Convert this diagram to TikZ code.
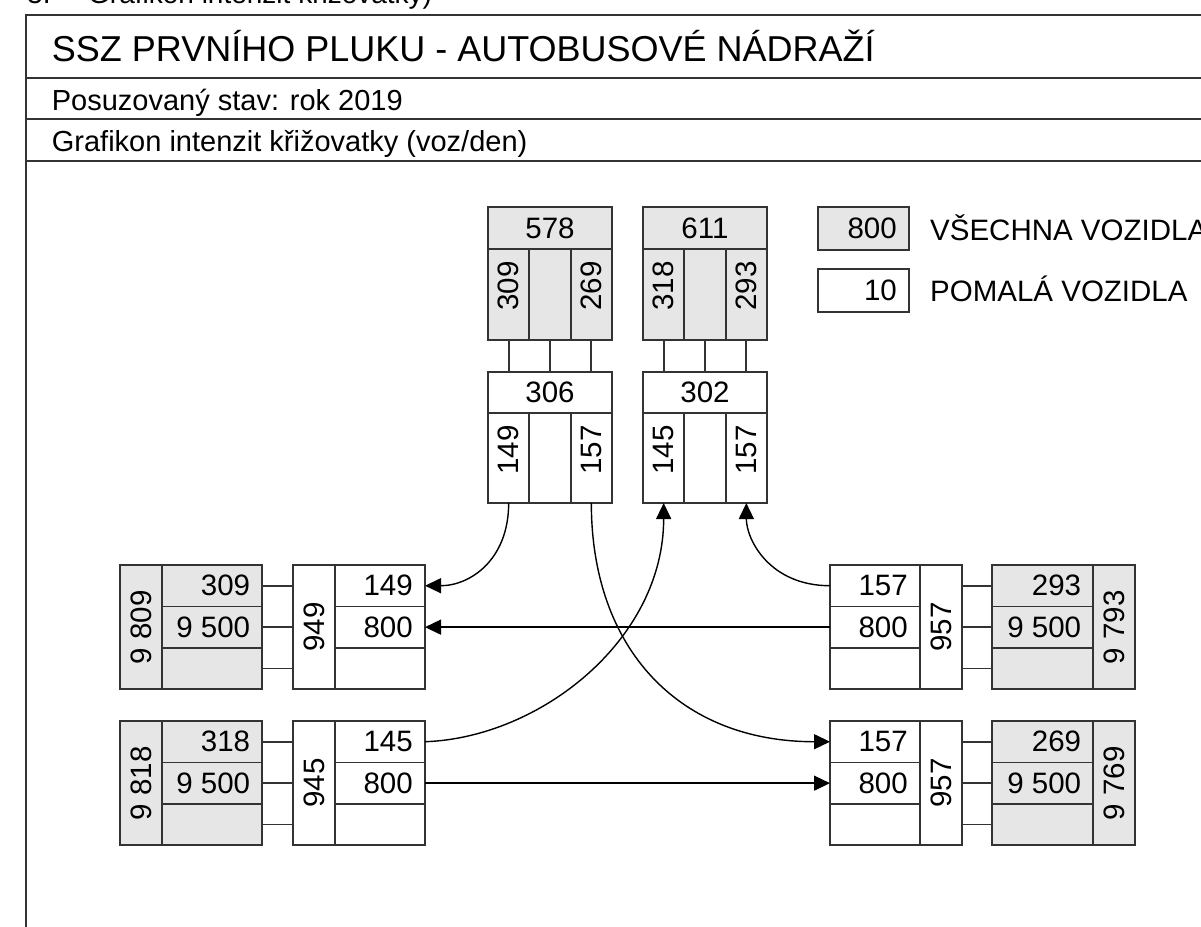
\documentclass[tikz,border=0pt]{standalone}
\usepackage{fontspec}
\setmainfont{Liberation Sans}
\usetikzlibrary{arrows.meta,calc}
\definecolor{cellgrey}{HTML}{E6E6E6}
\definecolor{linecol}{HTML}{333333}
\tikzset{
  cellst/.style={draw=linecol,line width=1.8pt,inner sep=0pt,outer sep=0pt,anchor=north west},
  numst/.style={inner sep=0pt,font=\fontsize{29.5}{30}\selectfont},
  frameline/.style={draw=linecol,line width=2pt},
  link/.style={draw=linecol,line width=1.8pt},
  flow/.style={draw=black,line width=1.4pt,-{Triangle[length=16pt,width=15pt]}},
}
\newcommand\mkcell[6]{\node[cellst,fill=#6,minimum width=#4pt,minimum height=#5pt] (#1) at (#2,#3) {};}
\newcommand\numr[3]{\node[numst,anchor=east] (#1) at ([xshift=-12pt]#2.east) {#3};}
\newcommand\numc[3]{\node[numst] (#1) at (#2.center) {#3};}
\newcommand\numv[3]{\node[numst,rotate=90] (#1) at (#2.center) {#3};}
\newcommand\numvt[3]{\node[numst,rotate=90,anchor=east] (#1) at ([yshift=-12pt]#2.north) {#3};}
\begin{document}
\begin{tikzpicture}[x=1pt,y=-1pt]
\useasboundingbox (0,0) rectangle (1201,926);
% frame
\draw[frameline] (25.7,950) -- (25.7,15) -- (1230,15);
\draw[frameline] (25.7,77.7) -- (1230,77.7);
\draw[frameline] (25.7,119) -- (1230,119);
\draw[frameline] (25.7,161) -- (1230,161);
% header texts
\node[anchor=base west,inner sep=0pt,font=\fontsize{28}{30}\selectfont] (num3) at (27,4) {3.};
\node[anchor=base west,inner sep=0pt,font=\fontsize{28}{30}\selectfont] (cuttitle) at (88,4) {Grafikon intenzit křižovatky)};
\node[anchor=base west,inner sep=0pt,font=\fontsize{36}{40}\selectfont] (title) at (51.7,61.7) {SSZ PRVNÍHO PLUKU - AUTOBUSOVÉ NÁDRAŽÍ};
\node[anchor=base west,inner sep=0pt,font=\fontsize{29}{30}\selectfont] (stav) at (51.7,110) {Posuzovaný stav: rok 2019};
\node[anchor=base west,inner sep=0pt,font=\fontsize{29}{30}\selectfont] (graf) at (51.7,151.7) {Grafikon intenzit křižovatky (voz/den)};
% legend
\mkcell{LGa}{818}{207}{91}{43}{cellgrey}
\mkcell{LGb}{818}{269}{91}{43}{white}
\numr{LGan}{LGa}{800}
\numr{LGbn}{LGb}{10}
\node[numst,anchor=base west] (LGat) at (930,240) {VŠECHNA VOZIDLA};
\node[numst,anchor=base west] (LGbt) at (930,301) {POMALÁ VOZIDLA};
% ---- top left
\mkcell{TAh}{488}{207}{124}{42}{cellgrey}
\mkcell{TAa}{488}{249}{41.33}{91}{cellgrey}
\mkcell{TAb}{529.33}{249}{41.33}{91}{cellgrey}
\mkcell{TAc}{570.67}{249}{41.33}{91}{cellgrey}
\mkcell{BAh}{488}{372}{124}{41}{white}
\mkcell{BAa}{488}{413}{41.33}{90}{white}
\mkcell{BAb}{529.33}{413}{41.33}{90}{white}
\mkcell{BAc}{570.67}{413}{41.33}{90}{white}
\numc{TAhn}{TAh}{578}
\numvt{TAan}{TAa}{309}
\numvt{TAcn}{TAc}{269}
\numc{BAhn}{BAh}{306}
\numvt{BAan}{BAa}{149}
\numvt{BAcn}{BAc}{157}
\draw[link] (TAa.south) -- (TAa.south |- BAh.north);
\draw[link] (TAb.south) -- (TAb.south |- BAh.north);
\draw[link] (TAc.south) -- (TAc.south |- BAh.north);
% ---- top right
\mkcell{TBh}{643}{207}{124}{42}{cellgrey}
\mkcell{TBa}{643}{249}{41.33}{91}{cellgrey}
\mkcell{TBb}{684.33}{249}{41.33}{91}{cellgrey}
\mkcell{TBc}{725.67}{249}{41.33}{91}{cellgrey}
\mkcell{BBh}{643}{372}{124}{41}{white}
\mkcell{BBa}{643}{413}{41.33}{90}{white}
\mkcell{BBb}{684.33}{413}{41.33}{90}{white}
\mkcell{BBc}{725.67}{413}{41.33}{90}{white}
\numc{TBhn}{TBh}{611}
\numvt{TBan}{TBa}{318}
\numvt{TBcn}{TBc}{293}
\numc{BBhn}{BBh}{302}
\numvt{BBan}{BBa}{145}
\numvt{BBcn}{BBc}{157}
\draw[link] (TBa.south) -- (TBa.south |- BBh.north);
\draw[link] (TBb.south) -- (TBb.south |- BBh.north);
\draw[link] (TBc.south) -- (TBc.south |- BBh.north);
% ---- left upper
\mkcell{LAs}{120}{565}{41.7}{124.3}{cellgrey}
\mkcell{LAr1}{161.7}{565}{100.6}{41.43}{cellgrey}
\mkcell{LAr2}{161.7}{606.43}{100.6}{41.43}{cellgrey}
\mkcell{LAr3}{161.7}{647.87}{100.6}{41.43}{cellgrey}
\mkcell{LAm}{293.3}{565}{41.7}{124.3}{white}
\mkcell{LAw1}{335}{565}{90}{41.43}{white}
\mkcell{LAw2}{335}{606.43}{90}{41.43}{white}
\mkcell{LAw3}{335}{647.87}{90}{41.43}{white}
\numv{LAsn}{LAs}{9 809}
\numr{LAr1n}{LAr1}{309}
\numr{LAr2n}{LAr2}{9 500}
\numv{LAmn}{LAm}{949}
\numr{LAw1n}{LAw1}{149}
\numr{LAw2n}{LAw2}{800}
\draw[link] (LAr1.east) -- (LAr1.east -| LAm.west);
\draw[link] (LAr2.east) -- (LAr2.east -| LAm.west);
\draw[link] (LAr3.east) -- (LAr3.east -| LAm.west);
% ---- left lower
\mkcell{LBs}{120}{721}{41.7}{124.3}{cellgrey}
\mkcell{LBr1}{161.7}{721}{100.6}{41.43}{cellgrey}
\mkcell{LBr2}{161.7}{762.43}{100.6}{41.43}{cellgrey}
\mkcell{LBr3}{161.7}{803.87}{100.6}{41.43}{cellgrey}
\mkcell{LBm}{293.3}{721}{41.7}{124.3}{white}
\mkcell{LBw1}{335}{721}{90}{41.43}{white}
\mkcell{LBw2}{335}{762.43}{90}{41.43}{white}
\mkcell{LBw3}{335}{803.87}{90}{41.43}{white}
\numv{LBsn}{LBs}{9 818}
\numr{LBr1n}{LBr1}{318}
\numr{LBr2n}{LBr2}{9 500}
\numv{LBmn}{LBm}{945}
\numr{LBw1n}{LBw1}{145}
\numr{LBw2n}{LBw2}{800}
\draw[link] (LBr1.east) -- (LBr1.east -| LBm.west);
\draw[link] (LBr2.east) -- (LBr2.east -| LBm.west);
\draw[link] (LBr3.east) -- (LBr3.east -| LBm.west);
% ---- right upper
\mkcell{RAw1}{830}{565}{90}{41.43}{white}
\mkcell{RAw2}{830}{606.43}{90}{41.43}{white}
\mkcell{RAw3}{830}{647.87}{90}{41.43}{white}
\mkcell{RAm}{920}{565}{41.7}{124.3}{white}
\mkcell{RAr1}{992.3}{565}{101}{41.43}{cellgrey}
\mkcell{RAr2}{992.3}{606.43}{101}{41.43}{cellgrey}
\mkcell{RAr3}{992.3}{647.87}{101}{41.43}{cellgrey}
\mkcell{RAs}{1093.3}{565}{41.7}{124.3}{cellgrey}
\numr{RAw1n}{RAw1}{157}
\numr{RAw2n}{RAw2}{800}
\numv{RAmn}{RAm}{957}
\numr{RAr1n}{RAr1}{293}
\numr{RAr2n}{RAr2}{9 500}
\numv{RAsn}{RAs}{9 793}
\draw[link] (RAr1.west) -- (RAr1.west -| RAm.east);
\draw[link] (RAr2.west) -- (RAr2.west -| RAm.east);
\draw[link] (RAr3.west) -- (RAr3.west -| RAm.east);
% ---- right lower
\mkcell{RBw1}{830}{721}{90}{41.43}{white}
\mkcell{RBw2}{830}{762.43}{90}{41.43}{white}
\mkcell{RBw3}{830}{803.87}{90}{41.43}{white}
\mkcell{RBm}{920}{721}{41.7}{124.3}{white}
\mkcell{RBr1}{992.3}{721}{101}{41.43}{cellgrey}
\mkcell{RBr2}{992.3}{762.43}{101}{41.43}{cellgrey}
\mkcell{RBr3}{992.3}{803.87}{101}{41.43}{cellgrey}
\mkcell{RBs}{1093.3}{721}{41.7}{124.3}{cellgrey}
\numr{RBw1n}{RBw1}{157}
\numr{RBw2n}{RBw2}{800}
\numv{RBmn}{RBm}{957}
\numr{RBr1n}{RBr1}{269}
\numr{RBr2n}{RBr2}{9 500}
\numv{RBsn}{RBs}{9 769}
\draw[link] (RBr1.west) -- (RBr1.west -| RBm.east);
\draw[link] (RBr2.west) -- (RBr2.west -| RBm.east);
\draw[link] (RBr3.west) -- (RBr3.west -| RBm.east);
% ---- flows
\draw[flow] (BAa.south) .. controls +(0,57) and +(45,0) .. (LAw1.east);
\draw[flow] (BAc.south) .. controls +(0,147) and +(-150,0) .. (RBw1.west);
\draw[flow] (LBw1.east) .. controls +(115,-4) and +(0,137) .. (BBa.south);
\draw[flow] (RAw1.west) .. controls +(-60,0) and +(0,37) .. (BBc.south);
\draw[flow] (RAw2.west) -- (LAw2.east);
\draw[flow] (LBw2.east) -- (RBw2.west);
\end{tikzpicture}
\end{document}
